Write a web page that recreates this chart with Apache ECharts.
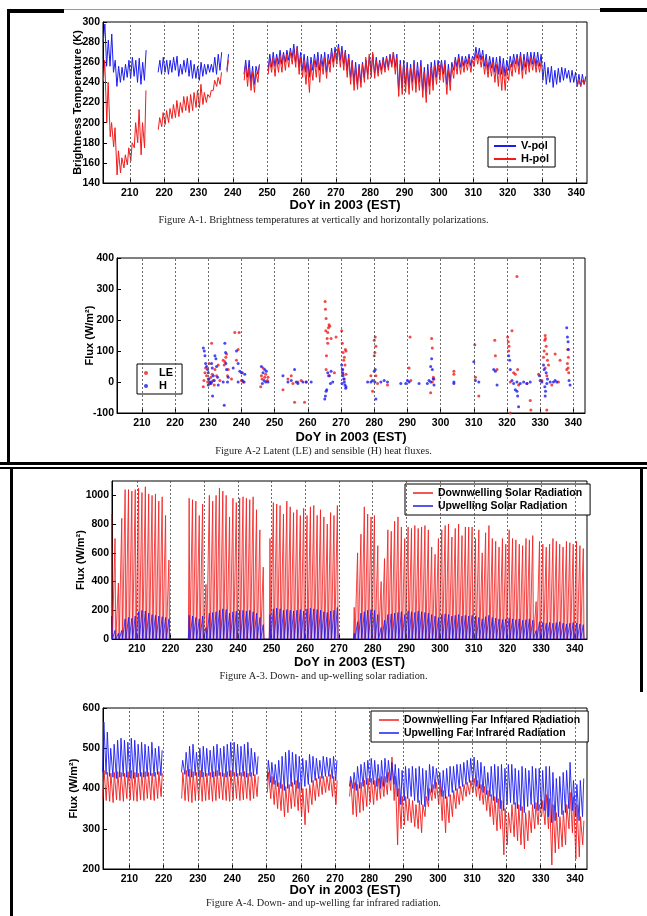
<!DOCTYPE html>
<html><head><meta charset="utf-8">
<script src="https://cdn.jsdelivr.net/npm/echarts@6/dist/echarts.min.js"></script>
<style>html,body{margin:0;padding:0;background:#fff}#c{width:647px;height:916px}</style>
</head><body><div id="c"></div><script>
// ---------- DATA ----------
const startDay = 202; // first day of the daily arrays (days 202..342)
const dayTicks = [210,220,230,240,250,260,270,280,290,300,310,320,330,340];

// Fig A-1 brightness temperature, daily low / high (K)
const vpolLo = [280,256,256,250,236,240,242,245,244,246,
 240,238,242,null,null,null,250,248,250,248,
 250,252,246,248,250,246,244,244,242,246,
 248,250,250,248,252,null,252,null,null,null,
 null,248,245,240,238,248,null,null,252,255,
 256,258,258,260,262,264,260,255,252,250,
 245,252,255,252,255,250,258,260,262,262,
 258,252,245,240,238,240,245,248,250,248,
 250,252,254,255,258,255,232,235,238,236,
 240,238,240,232,230,236,240,245,250,248,
 238,240,252,255,255,256,258,256,262,264,
 262,256,252,254,250,248,248,246,252,255,
 258,256,252,255,256,258,256,256,242,238,
 240,235,238,240,242,244,240,240,236,236,238];
const vpolHi = [298,282,288,262,256,255,258,262,265,262,
 264,260,272,null,null,null,262,265,262,262,
 265,266,258,262,264,262,258,256,260,258,
 258,258,265,268,270,null,268,null,null,null,
 null,262,262,256,256,258,null,null,268,270,
 268,272,270,272,274,278,276,270,268,266,
 265,268,270,268,270,268,274,275,278,276,
 272,268,262,260,258,260,262,266,268,265,
 262,265,266,268,270,268,262,262,260,258,
 262,260,262,255,258,260,262,262,262,262,
 258,260,265,268,266,266,268,266,275,274,
 272,268,266,265,265,266,264,262,266,268,
 268,270,268,270,270,270,270,268,260,255,
 256,252,254,255,254,252,252,250,248,248,246];
const hpolLo = [241,200,186,176,148,150,155,158,162,175,
 180,168,175,null,null,null,193,196,198,200,
 204,205,206,210,212,210,212,215,215,218,
 220,225,232,236,238,null,250,null,null,null,
 null,242,236,232,230,240,null,null,248,250,
 246,250,250,252,255,258,255,248,245,238,
 230,242,245,240,248,244,250,255,258,255,
 252,245,238,232,233,235,240,243,245,244,
 246,248,250,252,255,248,226,228,230,228,
 232,230,232,225,220,228,232,238,242,240,
 228,232,244,248,248,250,252,250,256,258,
 255,248,245,246,240,236,232,232,242,246,
 250,248,244,248,250,252,250,250,null,null,
 null,null,null,null,null,null,null,null,236,236,238];
const hpolHi = [262,240,200,195,172,165,168,175,180,200,
 213,200,232,null,null,null,205,210,212,214,
 218,222,220,226,226,228,230,232,238,230,
 228,232,242,245,250,null,262,null,null,null,
 null,258,255,250,250,256,null,null,262,265,
 264,266,268,268,270,272,275,265,262,260,
 258,262,264,262,265,262,270,270,275,272,
 270,265,260,255,255,258,265,268,270,262,
 260,262,264,266,270,265,258,258,255,255,
 258,252,256,250,252,255,256,258,260,258,
 252,256,262,264,262,262,264,262,270,268,
 266,262,260,260,258,258,256,255,258,262,
 265,266,262,264,265,264,262,260,null,null,
 null,null,null,null,null,null,null,null,242,242,244];

// Fig A-2 heat fluxes [DoY, W/m2]
const lePoints = [[228.5,-15],[228.7,5],[229,30],[229.2,45],[229.5,20],[229.8,0],[230,10],[230.3,60],[230.5,-5],[230.8,15],[231,125],[231.2,25],[231.5,5],[231.8,-10],[232,40],[232.5,20],[233,55],[233.5,5],[234.5,70],[234.8,55],[235,65],[235.3,80],[235.5,90],[235.8,20],[236,40],[237,10],[238,160],[239,105],[239.3,160],[238.5,70],[240,5],[240.5,0],[240.3,30],
[245.8,-15],[246,20],[246.2,10],[246.5,45],[247,15],[247.3,25],[247.8,5],[248,15],
[252.5,-25],[254,10],[255,20],[255.5,-5],[256,-65],[257,0],[258,5],[259,-65],[259.5,0],
[265.2,260],[265.3,235],[265.5,205],[265.4,165],[265.8,140],[266,160],[266.2,175],[266.4,185],[266.6,180],[266,125],[265.6,85],[265.5,40],[266.2,20],[267,140],[268.5,145],[268,30],
[270.2,165],[270.4,125],[270.6,95],[270.8,70],[271,80],[271.3,105],[271.5,100],[271.2,55],[270.5,25],[271,10],[271.5,25],[270.5,40],
[279,20],[279.5,-30],[280,135],[280.3,145],[280.5,115],[280.2,95],[280,85],[280.5,20],[281,-5],[284,-10],
[290.5,45],[290.8,145],[291,5],
[297,-35],[297.3,140],[297.5,110],[297.8,15],[298,10],[297.5,0],
[304,25],[304,35],
[310.3,120],[310.5,15],[311.5,-45],
[316.3,135],[316.5,85],[317,40],
[320.2,145],[320.4,130],[320.6,115],[320.5,100],[321,0],[321.5,165],[321,-100],[322,30],[322.5,25],[323,340],[323.2,40],[323.5,-10],[326,-5],[327,-60],[327.2,-90],
[329.5,25],[330.5,5],[331,80],[331.2,100],[331.4,135],[331.6,140],[331.5,150],[331.8,115],[332,90],[332.2,70],[332.5,55],[331.5,45],[332,20],[332,-90],[333.5,-10],[334.5,90],[335.5,0],[336,70],[338,40],[338.2,60],[338.5,80],[338.3,105],[338.6,30],[338.4,45]];
const hPoints = [[228.5,110],[228.8,100],[229,85],[229.2,60],[229.5,50],[229.8,40],[230,30],[230.2,10],[230.5,0],[230.8,-5],[231,60],[231.2,45],[231.3,-45],[231.5,20],[231.8,5],[232,85],[232.3,75],[232.5,50],[232.8,15],[233,-10],[231,0],[230,-10],
[234.5,0],[235,125],[235.2,95],[235.3,60],[235.5,40],[234.8,-75],[235.8,0],[236,15],
[237.5,45],[238.5,100],[239,60],[239.5,35],[240,30],[240.3,5],[240.8,0],[241,25],[239,0],
[246,50],[246.5,30],[246.8,5],[247,40],[247.5,35],[247.3,0],[246.3,-5],[248,0],
[252.5,20],[254,0],[255,5],[256,40],[256.5,0],[257,-5],[258.5,0],[259.5,0],[261,0],
[265.1,-55],[265.3,-45],[265.5,-30],[265.7,-25],[266,30],[266.5,20],[267,35],[267.5,0],[266.8,-5],
[270.2,55],[270.4,40],[270.5,30],[270.6,20],[270.8,10],[271,0],[271.2,-10],[271.4,-20],[271.5,-15],[270.3,-5],
[278,0],[279,0],[279.5,5],[280,35],[280.3,40],[280.5,-55],[280.2,0],[282,0],[283,5],[284,0],
[288,-5],[289.5,-5],[290,5],[290.5,0],[293.5,-5],
[296,-5],[296.5,5],[297,50],[297.3,75],[297.5,40],[297,0],[297.8,10],[298,-10],
[304,-5],[304,0],
[310,65],[310.5,5],[311.5,0],
[316,40],[316.5,35],[317,-10],
[320.5,85],[320.8,70],[321,40],[321.5,5],[322,-5],[322.5,-25],[323,-30],[323.2,-45],[323.5,-80],[323,0],[324,-5],[325,0],[326,-5],[327,0],
[329.8,20],[330,5],[330.5,0],[331,55],[331.2,40],[331.4,-15],[331.5,-45],[331.6,-30],[331.8,30],[332,-5],[332.2,10],[333,0],[334,0],[335,0],[338,175],[338.2,145],[338.4,130],[338.5,105],[338.7,5],[339,-10],[334.5,5]];

// Fig A-3 solar radiation, daily noon peak (W/m2)
const solarDownPeak = [870,700,390,840,1040,1040,1030,1040,1050,1020,
 1060,1010,1000,1010,960,990,860,550,null,null,
 null,null,null,980,970,960,860,940,380,1000,
 960,1000,1050,1030,1000,850,980,950,980,990,
 980,970,990,900,760,500,null,700,950,940,
 930,870,960,920,880,900,860,910,860,920,
 930,860,900,850,800,880,860,930,null,null,
 null,null,220,600,730,920,870,850,860,650,
 400,560,760,750,820,850,780,700,780,770,
 790,770,780,790,760,640,590,700,760,790,
 800,710,770,800,720,780,780,780,700,760,
 600,740,790,700,680,640,700,660,760,700,
 690,660,650,700,690,720,260,680,660,640,
 660,700,680,660,640,680,670,660,680,650,630];
const solarUpPeak = [160,60,40,60,140,150,145,160,190,200,
 195,180,170,165,160,155,150,140,null,null,
 null,null,null,165,160,150,140,160,80,180,
 185,190,200,210,205,180,190,195,200,200,
 195,200,190,180,150,100,null,170,210,215,
 210,200,205,200,195,200,205,195,210,215,
 210,205,200,190,185,195,200,220,null,null,
 null,null,40,120,180,190,200,205,200,170,
 80,130,170,175,180,185,190,170,195,190,
 185,195,190,185,180,170,160,150,170,175,
 170,160,165,170,160,165,160,165,160,150,
 140,155,165,150,145,140,135,140,145,140,
 135,140,130,135,140,130,60,120,115,110,
 115,110,115,120,110,105,110,115,110,105,100];

// Fig A-4 far infrared, daily low / high (W/m2)
const irUpHi = [565,540,500,510,520,525,520,515,525,520,
 510,515,510,505,515,500,505,495,null,null,
 null,null,null,470,490,505,510,490,500,505,
 500,495,505,510,500,505,510,515,515,510,
 505,510,515,500,490,480,null,null,470,465,
 460,470,480,490,495,490,485,480,475,470,
 485,480,475,470,480,478,475,480,470,null,
 null,null,430,440,455,460,465,470,475,470,
 460,470,475,470,465,460,450,445,455,450,
 455,450,455,450,445,460,455,450,440,445,
 450,455,455,460,460,465,470,475,478,470,
 465,455,440,455,460,455,460,450,460,460,
 450,445,455,450,445,455,450,450,445,455,
 455,440,425,430,440,445,465,420,410,420,425];
const irUpLo = [440,435,430,428,425,428,430,428,425,425,
 428,430,428,430,432,430,435,432,null,null,
 null,null,null,440,435,430,428,432,430,428,
 430,432,428,430,432,430,428,430,432,430,
 432,430,428,430,432,435,null,null,420,415,
 410,405,400,395,400,405,410,400,395,405,
 410,415,420,425,425,430,430,425,420,null,
 null,null,405,400,395,400,405,410,415,410,
 405,400,405,415,420,410,380,360,370,375,
 380,370,365,360,355,370,390,400,410,380,
 375,380,390,395,400,405,410,415,415,405,
 400,390,385,380,370,365,350,345,360,365,
 360,350,345,340,355,360,350,345,350,345,
 330,315,320,330,335,340,350,345,330,320,330];
const irDownHi = [445,440,438,440,442,440,438,442,445,440,
 438,440,442,440,438,440,442,438,null,null,
 null,null,null,440,445,448,442,440,445,440,
 438,440,442,445,440,438,442,445,440,438,
 440,442,438,440,435,430,null,null,440,430,
 420,415,410,405,410,415,420,415,400,400,
 410,420,425,430,430,430,435,430,420,null,
 null,null,420,415,410,415,420,425,425,420,
 425,430,430,440,478,430,400,380,380,375,
 370,360,370,360,380,400,410,415,420,395,
 380,385,395,400,405,410,415,420,425,420,
 410,405,395,385,380,375,370,350,340,360,
 365,360,355,340,345,360,365,360,370,385,
 375,360,340,330,345,360,390,380,360,330,320];
const irDownLo = [375,370,368,365,372,370,368,375,372,370,
 368,372,370,375,372,370,375,380,null,null,
 null,null,null,375,370,368,365,370,372,368,
 370,372,368,370,375,372,370,368,372,375,
 370,372,375,370,375,380,null,null,390,375,
 360,350,345,330,340,350,355,345,330,310,
 340,360,370,380,385,390,395,380,360,null,
 null,null,380,335,330,340,345,355,365,360,
 370,375,380,385,395,370,260,300,310,320,
 315,305,300,290,330,355,370,375,360,320,
 290,315,330,350,360,370,380,385,390,380,
 370,360,345,330,310,295,300,235,260,290,
 280,270,260,250,270,290,300,310,330,310,
 300,210,240,250,255,260,300,290,225,230,260];

// ---------- BUILD ----------
function zigzag(lo, hi, tLo, tHi){
  const out=[];
  for(let i=0;i<lo.length;i++){
    const d=startDay+i;
    if(lo[i]==null||hi[i]==null){out.push([d+0.5,'-']);continue;}
    out.push([d+tLo,lo[i]]); out.push([d+tHi,hi[i]]);
  }
  return out;
}
function spikes(peaks){
  const out=[];
  for(let i=0;i<peaks.length;i++){
    const d=startDay+i;
    if(peaks[i]==null){out.push([d+0.5,'-']);continue;}
    out.push([d+0.28,0]); out.push([d+0.5,peaks[i]]); out.push([d+0.72,0]);
  }
  return out;
}
const FONT='"Liberation Sans", Arial, sans-serif';
function xAx(gi,min,max,gap){
  return {type:'value',gridIndex:gi,min:min,max:max,nameMoveOverlap:false,
    axisLine:{show:true,onZero:false,lineStyle:{color:'#000',width:1}},
    axisTick:{show:true,inside:true,length:4,customValues:dayTicks,lineStyle:{color:'#000'}},
    axisLabel:{customValues:dayTicks,color:'#000',fontWeight:'bold',fontSize:10.5,fontFamily:FONT,margin:5},
    splitLine:{show:false},
    name:'DoY in 2003 (EST)',nameLocation:'middle',nameGap:gap,
    nameTextStyle:{color:'#000',fontWeight:'bold',fontSize:13,fontFamily:FONT}};
}
function yAx(gi,min,max,interval,name,gap,extraLabel){
  return {type:'value',gridIndex:gi,min:min,max:max,interval:interval,nameMoveOverlap:false,
    axisLine:{show:true,onZero:false,lineStyle:{color:'#000',width:1}},
    axisTick:{show:true,inside:true,length:4,lineStyle:{color:'#000'}},
    axisLabel:Object.assign({color:'#000',fontWeight:'bold',fontSize:10.5,fontFamily:FONT,margin:3,
      formatter:function(v){return String(v);}},extraLabel||{}),
    splitLine:{show:false},
    name:name,nameLocation:'middle',nameGap:gap,
    nameTextStyle:{color:'#000',fontWeight:'bold',fontSize:11,fontFamily:FONT}};
}
const gridLines = {silent:true,symbol:'none',label:{show:false},animation:false,
  lineStyle:{type:[2,2],color:'#444',width:0.8},data:dayTicks.map(v=>({xAxis:v}))};
function legendBox(names,left,top,icon,iw,ih,fs,pad){
  return {data:names,orient:'vertical',left:left,top:top,icon:icon,itemWidth:iw,itemHeight:ih,
    itemGap:1,padding:pad,borderColor:'#000',borderWidth:1,backgroundColor:'#fff',borderRadius:0,
    textStyle:{color:'#000',fontWeight:'bold',fontSize:fs,fontFamily:FONT,lineHeight:12}};
}
const RED='#f01c1c', BLUE='#1c1cf0';

const chart = echarts.init(document.getElementById('c'),null,{renderer:'canvas'});
const cap = (t,y)=>({type:'text',left:'center',top:y,style:{text:t,font:'10.3px "Liberation Serif", "Times New Roman", serif',fill:'#222'}});
chart.setOption({
  animation:false,
  backgroundColor:'#fff',
  grid:[
    {left:103,top:22,width:484,height:161,show:true,borderColor:'#000',borderWidth:1},
    {left:117,top:258,width:468,height:155,show:true,borderColor:'#000',borderWidth:1},
    {left:112,top:481,width:475,height:158,show:true,borderColor:'#000',borderWidth:1},
    {left:103,top:708,width:484,height:161,show:true,borderColor:'#000',borderWidth:1}
  ],
  xAxis:[xAx(0,202.2,343.1,16),xAx(1,202.5,343.5,18),xAx(2,202.6,343.6,17),xAx(3,202.3,343.5,15)],
  yAxis:[
    yAx(0,140,300,20,'Brightness Temperature (K)',20),
    yAx(1,-100,400,100,'Flux (W/m²)',22),
    yAx(2,0,1100,200,'Flux (W/m²)',26,{showMaxLabel:false}),
    yAx(3,200,600,100,'Flux (W/m²)',24)
  ],
  legend:[
    legendBox(['V-pol','H-pol'],488,137,'rect',22,2,11,[3,6,2,6]),
    legendBox(['LE','H'],137,364,'circle',16,4,11,[3,9,2,7]),
    legendBox(['Downwelling Solar Radiation','Upwelling Solar Radiation'],405,484,'rect',20,1.5,10.5,[3,8,3,8]),
    legendBox(['Downwelling Far Infrared Radiation','Upwelling Far Infrared Radiation'],371,711,'rect',20,1.5,10.5,[3,8,3,8])
  ],
  series:[
    {name:'V-pol',type:'line',xAxisIndex:0,yAxisIndex:0,data:zigzag(vpolLo,vpolHi,0.25,0.75),showSymbol:false,symbol:'none',connectNulls:false,
      lineStyle:{color:BLUE,width:1},itemStyle:{color:BLUE},markLine:gridLines},
    {name:'H-pol',type:'line',xAxisIndex:0,yAxisIndex:0,data:zigzag(hpolLo,hpolHi,0.3,0.7),showSymbol:false,symbol:'none',connectNulls:false,
      lineStyle:{color:RED,width:1},itemStyle:{color:RED}},
    {name:'LE',type:'scatter',xAxisIndex:1,yAxisIndex:1,data:lePoints,symbol:'circle',symbolSize:3,itemStyle:{color:RED},markLine:gridLines},
    {name:'H',type:'scatter',xAxisIndex:1,yAxisIndex:1,data:hPoints,symbol:'circle',symbolSize:3,itemStyle:{color:BLUE}},
    {name:'Downwelling Solar Radiation',type:'line',xAxisIndex:2,yAxisIndex:2,data:spikes(solarDownPeak),showSymbol:false,symbol:'none',
      lineStyle:{color:RED,width:0.8},itemStyle:{color:RED},areaStyle:{color:'rgba(255,110,110,0.35)',origin:'start'},markLine:gridLines},
    {name:'Upwelling Solar Radiation',type:'line',xAxisIndex:2,yAxisIndex:2,data:spikes(solarUpPeak),showSymbol:false,symbol:'none',
      lineStyle:{color:BLUE,width:0.8},itemStyle:{color:BLUE},areaStyle:{color:'rgba(90,90,255,0.35)',origin:'start'}},
    {name:'Downwelling Far Infrared Radiation',type:'line',xAxisIndex:3,yAxisIndex:3,data:zigzag(irDownLo,irDownHi,0.25,0.6),showSymbol:false,symbol:'none',
      lineStyle:{color:RED,width:0.9},itemStyle:{color:RED},markLine:gridLines},
    {name:'Upwelling Far Infrared Radiation',type:'line',xAxisIndex:3,yAxisIndex:3,data:zigzag(irUpLo,irUpHi,0.2,0.55),showSymbol:false,symbol:'none',
      lineStyle:{color:BLUE,width:0.9},itemStyle:{color:BLUE}}
  ],
  graphic:[
    {type:'rect',shape:{x:7,y:9,width:57,height:4},style:{fill:'#000'}},
    {type:'line',shape:{x1:64,y1:9.5,x2:600,y2:9.5},style:{stroke:'#999',lineWidth:1}},
    {type:'rect',shape:{x:600,y:8,width:47,height:4},style:{fill:'#000'}},
    {type:'rect',shape:{x:7,y:9,width:3,height:456},style:{fill:'#000'}},
    {type:'rect',shape:{x:0,y:462,width:647,height:3},style:{fill:'#000'}},
    {type:'rect',shape:{x:0,y:467,width:647,height:2},style:{fill:'#000'}},
    {type:'rect',shape:{x:10,y:467,width:3,height:449},style:{fill:'#000'}},
    {type:'rect',shape:{x:640,y:467,width:3,height:225},style:{fill:'#000'}},
    cap('Figure A-1. Brightness temperatures at vertically and horizontally polarizations.',215),
    cap('Figure A-2 Latent (LE) and sensible (H) heat fluxes.',446),
    cap('Figure A-3. Down- and up-welling solar radiation.',671),
    cap('Figure A-4. Down- and up-welling far infrared radiation.',898)
  ]
});
</script></body></html>
